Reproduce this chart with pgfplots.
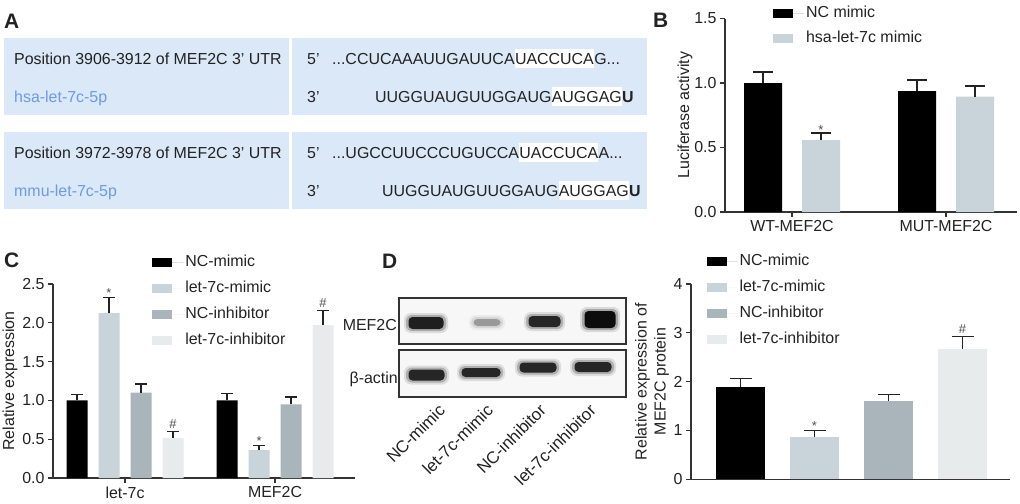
\documentclass[border=0pt]{standalone}
\usepackage{fontspec}
\setmainfont{Liberation Sans}
\usepackage{pgfplots}
\pgfplotsset{compat=1.18}
\definecolor{abl}{HTML}{DAE8F8}
\definecolor{atx}{HTML}{6C9BE6}
\definecolor{txt}{HTML}{222222}
\definecolor{axc}{HTML}{333333}
\definecolor{cA}{HTML}{000000}
\definecolor{cB}{HTML}{C8D3DA}
\definecolor{cC}{HTML}{AAB5BB}
\definecolor{cD}{HTML}{E7EBEC}
\newcommand{\fs}{\fontsize{16}{19}\selectfont}
\newcommand{\fl}{\fontsize{21}{24}\selectfont\bfseries}
\pgfplotsset{
  panel/.style={
    scale only axis, ymin=0, clip=false,
    axis x line*=bottom, axis y line*=left,
    axis line style={-, line width=1.3bp, axc},
    every tick/.style={line width=1.3bp, axc},
    major tick length=5bp, tick align=outside,
    ticklabel style={font=\fs, text=txt},
    /pgf/number format/assume math mode=true,
    ybar,
    legend style={draw=none, fill=none, font=\fs, text=txt, anchor=north west,
      inner sep=0pt, row sep=6bp, legend cell align=left,
      nodes={inner sep=2bp, text height=12bp, text depth=4bp}},
    error bars/y dir=plus, error bars/y explicit,
    error bars/error bar style={line width=1.3bp, txt},
  },
  leg/.style={legend image code/.code={\fill[##1] (0bp,-4.5bp) rectangle (20bp,4.5bp); \path (0bp,0bp) -- (31bp,0bp);}},
}
\tikzset{seq/.style={anchor=base west, inner sep=0pt, font=\fs, text=txt, text height=15bp, text depth=4bp},
  sig/.style={font=\fontsize{13}{15}\selectfont, text=txt!80, inner sep=0pt}}
\begin{document}
\begin{tikzpicture}
\path[use as bounding box] (0,0) rectangle (1020bp,-504bp);
% ---------------- Panel A
\node[anchor=base west, inner sep=0pt, font=\fl, text=txt] at (4bp,-28bp) {A};
\fill[abl] (4bp,-38bp) rectangle (289bp,-115bp);
\fill[abl] (292bp,-38bp) rectangle (647bp,-115bp);
\fill[abl] (4bp,-132bp) rectangle (289bp,-209bp);
\fill[abl] (292bp,-132bp) rectangle (647bp,-209bp);
\node[anchor=base west, inner sep=0pt, font=\fs, text=txt] at (14bp,-64bp) {Position 3906-3912 of MEF2C 3’ UTR};
\node[anchor=base west, inner sep=0pt, font=\fs, text=atx] at (14bp,-102bp) {hsa-let-7c-5p};
\node[anchor=base west, inner sep=0pt, font=\fs, text=txt] at (14bp,-158bp) {Position 3972-3978 of MEF2C 3’ UTR};
\node[anchor=base west, inner sep=0pt, font=\fs, text=atx] at (14bp,-196bp) {mmu-let-7c-5p};
\foreach \yy/\tt in {64/5’,102/3’,158/5’,196/3’}
  \node[anchor=base west, inner sep=0pt, font=\fs, text=txt] at (307bp,-\yy bp) {\tt};
\node[seq] (a1) at (332bp,-64bp) {...CCUCAAAUUGAUUCA};
\node[seq, fill=white] (a2) at (a1.base east) {UACCUCA};
\node[seq] at (a2.base east) {G...};
\node[seq] (b1) at (375bp,-102bp) {UUGGUAUGUUGGAUG};
\node[seq, fill=white] (b2) at (b1.base east) {AUGGAG};
\node[seq] at (b2.base east) {\bfseries U};
\node[seq] (c1) at (332bp,-158bp) {...UGCCUUCCCUGUCCA};
\node[seq, fill=white] (c2) at (c1.base east) {UACCUCA};
\node[seq] at (c2.base east) {A...};
\node[seq] (d1) at (382bp,-196bp) {UUGGUAUGUUGGAUG};
\node[seq, fill=white] (d2) at (d1.base east) {AUGGAG};
\node[seq] at (d2.base east) {\bfseries U};
% ---------------- Panel B
\node[anchor=base west, inner sep=0pt, font=\fl, text=txt] at (653bp,-27bp) {B};
\begin{axis}[panel, at={(725bp,-212bp)}, anchor=south west,
  width=292bp, height=193.5bp, xmin=-0.435, xmax=1.461, ymax=1.5,
  ytick={0,0.5,1,1.5},
  yticklabel style={/pgf/number format/.cd, fixed, fixed zerofill, precision=1},
  xtick={0,1}, xticklabels={WT-MEF2C, MUT-MEF2C},
  every axis y label/.style={at={(axis description cs:-0.137,0.5)}, rotate=90, anchor=center, font=\fs, text=txt},
  ylabel={Luciferase activity},
  legend style={at={(axis description cs:0.164,1.08)}, row sep=5bp},
  error bars/error mark options={rotate=90, mark size=10bp, line width=1.3bp, txt},
]
\addplot[fill=cA, draw=none, bar width=38bp, bar shift=-29bp, leg] coordinates {(0,1.0) +- (0,0.085) (1,0.938) +- (0,0.085)};
\addplot[fill=cB, draw=none, bar width=38bp, bar shift=29bp, leg] coordinates {(0,0.558) +- (0,0.054) (1,0.894) +- (0,0.083)};
\legend{NC mimic, hsa-let-7c mimic}
\node[sig, anchor=base, xshift=29bp, yshift=-1bp] at (axis cs:0,0.612) {*};
\end{axis}
% ---------------- Panel C
\node[anchor=base west, inner sep=0pt, font=\fl, text=txt] at (4bp,-267bp) {C};
\begin{axis}[panel, at={(53bp,-478bp)}, anchor=south west,
  width=302bp, height=194bp, xmin=-0.48, xmax=1.533, ymax=2.5,
  ytick={0,0.5,1,1.5,2,2.5},
  yticklabel style={/pgf/number format/.cd, fixed, fixed zerofill, precision=1},
  xtick={0,1}, xticklabels={let-7c, MEF2C},
  every axis y label/.style={at={(axis description cs:-0.142,0.5)}, rotate=90, anchor=center, font=\fs, text=txt},
  ylabel={Relative expression},
  legend style={at={(axis description cs:0.328,1.165)}},
  error bars/error mark options={rotate=90, mark size=6bp, line width=1.3bp, txt},
]
\addplot[fill=cA, draw=none, bar width=21bp, bar shift=-48bp, leg] coordinates {(0,1.0) +- (0,0.08) (1,1.0) +- (0,0.086)};
\addplot[fill=cB, draw=none, bar width=21bp, bar shift=-16bp, leg] coordinates {(0,2.125) +- (0,0.205) (1,0.36) +- (0,0.06)};
\addplot[fill=cC, draw=none, bar width=21bp, bar shift=16bp, leg] coordinates {(0,1.10) +- (0,0.11) (1,0.95) +- (0,0.094)};
\addplot[fill=cD, draw=none, bar width=21bp, bar shift=48bp, leg] coordinates {(0,0.517) +- (0,0.078) (1,1.97) +- (0,0.185)};
\legend{NC-mimic, let-7c-mimic, NC-inhibitor, let-7c-inhibitor}
\node[sig, anchor=base, xshift=-16bp] at (axis cs:0,2.33) {*};
\node[sig, anchor=south, xshift=48bp, yshift=3bp] at (axis cs:0,0.595) {\#};
\node[sig, anchor=base, xshift=-16bp] at (axis cs:1,0.42) {*};
\node[sig, anchor=south, xshift=48bp, yshift=3bp] at (axis cs:1,2.155) {\#};
\end{axis}
% ---------------- Panel D
\node[anchor=base west, inner sep=0pt, font=\fl, text=txt] at (382bp,-268bp) {D};
% western blot
\draw[line width=1.5bp, axc, fill=black!3] (399bp,-298bp) rectangle (626bp,-344bp);
\draw[line width=1.5bp, axc, fill=black!3] (399bp,-350bp) rectangle (626bp,-397bp);
\foreach \xa/\xb/\cy/\hh/\col in {407/445/323/7/black!88, 472/502/322.5/4.5/black!40, 527/562/321.5/6.5/black!85, 583/617/319.5/9.5/black!95,
  407/446/375/6.5/black!85, 460/502/372.5/5.5/black!85, 518/558/367.5/6/black!85, 573/613/367/6/black!85}{
  \fill[\col, opacity=0.12, rounded corners=7bp] (\xa bp-3bp,-\cy bp-\hh bp-3bp) rectangle (\xb bp+3bp,-\cy bp+\hh bp+3bp);
  \fill[\col, opacity=0.25, rounded corners=6bp] (\xa bp-1bp,-\cy bp-\hh bp-1bp) rectangle (\xb bp+1bp,-\cy bp+\hh bp+1bp);
  \fill[\col, rounded corners=4bp] (\xa bp+1.5bp,-\cy bp-\hh bp+1bp) rectangle (\xb bp-1.5bp,-\cy bp+\hh bp-1bp);
}
\node[anchor=base east, inner sep=0pt, font=\fs, text=txt] at (397bp,-330bp) {MEF2C};
\node[anchor=base east, inner sep=0pt, font=\fs, text=txt] at (398bp,-383bp) {β-actin};
\foreach \ex/\lab in {442/NC-mimic, 490/let-7c-mimic, 543/NC-inhibitor, 593/let-7c-inhibitor}
  \node[anchor=east, rotate=45, inner sep=0pt, font=\fontsize{17}{20}\selectfont, text=txt] at (\ex bp,-407bp) {\lab};
\begin{axis}[panel, at={(691bp,-479.3bp)}, anchor=south west,
  width=319bp, height=195.3bp, xmin=-0.669, xmax=3.642, ymax=4,
  ytick={0,1,2,3,4}, xtick=\empty,
  every axis y label/.style={at={(axis description cs:-0.122,0.5)}, rotate=90, anchor=center, font=\fs, text=txt, align=center},
  ylabel={Relative expression of\\MEF2C protein},
  legend style={at={(axis description cs:0.048,1.165)}},
  error bars/error mark options={rotate=90, mark size=11bp, line width=1.3bp, txt},
]
\addplot[fill=cA, draw=none, bar width=49bp, bar shift=0bp, leg] coordinates {(0,1.885) +- (0,0.185)};
\addplot[fill=cB, draw=none, bar width=49bp, bar shift=0bp, leg] coordinates {(1,0.873) +- (0,0.127)};
\addplot[fill=cC, draw=none, bar width=49bp, bar shift=0bp, leg] coordinates {(2,1.604) +- (0,0.136)};
\addplot[fill=cD, draw=none, bar width=49bp, bar shift=0bp, leg] coordinates {(3,2.67) +- (0,0.25)};
\legend{NC-mimic, let-7c-mimic, NC-inhibitor, let-7c-inhibitor}
\node[sig, anchor=base] at (axis cs:1,1.0) {*};
\node[sig, anchor=south, yshift=3bp] at (axis cs:3,2.92) {\#};
\end{axis}
\end{tikzpicture}
\end{document}
